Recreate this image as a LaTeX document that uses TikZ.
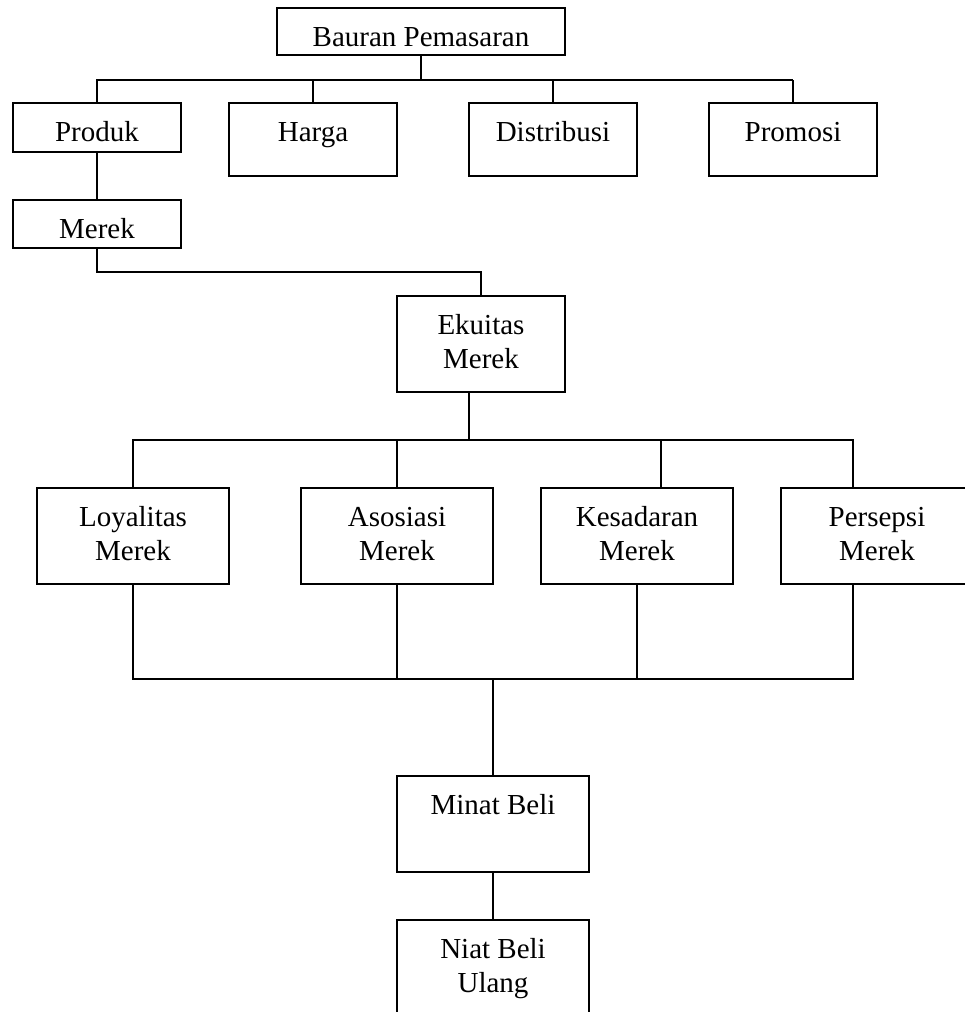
\documentclass[tikz,border=0pt]{standalone}
\usepackage{fontspec}
\setmainfont{Liberation Serif}
% box contents: width, height, text set from the top
\newcommand{\boxtxt}[3]{\parbox[c][#2][t]{#1}{\centering\rule{0pt}{38pt}#3\par}}

\begin{document}
\begin{tikzpicture}[x=1pt,y=-1pt,
  box/.style={draw,line width=2.2pt,inner sep=0pt,font=\fontsize{29}{34}\selectfont},
  link/.style={line width=2pt}]
\path[use as bounding box] (0,0) rectangle (964,1012);
\coordinate (topbus) at (0,80);
\coordinate (mbus) at (0,272);
\coordinate (ebus) at (0,440);
\coordinate (lbus) at (0,679);

% Marketing mix and its four parts
\node[box] (bauran) at (421,31.5) {\boxtxt{288pt}{47pt}{Bauran Pemasaran}};
\node[box] (produk) at (97,127.5) {\boxtxt{168pt}{49pt}{Produk}};
\foreach \x/\nm/\lab in {313/harga/Harga,553/distribusi/Distribusi,793/promosi/Promosi}{
  \node[box] (\nm) at (\x,139.5) {\boxtxt{168pt}{73pt}{\lab}};
  \draw[link] (\nm.north) -- (\nm.north |- topbus);
}
\draw[link] (bauran.south) -- (bauran.south |- topbus);
\draw[link] (produk.north) |- (promosi.north |- topbus);

\node[box] (merek) at (97,224) {\boxtxt{168pt}{48pt}{Merek}};
\draw[link] (produk.south) -- (merek.north);
\node[box] (ekuitas) at (481,344) {\boxtxt{168pt}{96pt}{Ekuitas\\Merek}};
\draw[link] (merek.south) |- (ekuitas.north |- mbus) -- (ekuitas.north);

% Brand equity dimensions
\foreach \x/\nm/\lab in {133/loyalitas/Loyalitas,397/asosiasi/Asosiasi,637/kesadaran/Kesadaran,877/persepsi/Persepsi}{
  \node[box] (\nm) at (\x,536) {\boxtxt{192pt}{96pt}{\lab\\Merek}};
}
\draw[link] ([xshift=-12pt]ekuitas.south) -- ([xshift=-12pt]ekuitas.south |- ebus);
\draw[link] (loyalitas.north) |- ([xshift=-24pt]persepsi.north |- ebus) -- ([xshift=-24pt]persepsi.north);
\draw[link] (asosiasi.north) -- (asosiasi.north |- ebus);
\draw[link] ([xshift=24pt]kesadaran.north) -- ([xshift=24pt]kesadaran.north |- ebus);

\draw[link] (loyalitas.south) |- ([xshift=-24pt]persepsi.south |- lbus) -- ([xshift=-24pt]persepsi.south);
\draw[link] (asosiasi.south) -- (asosiasi.south |- lbus);
\draw[link] (kesadaran.south) -- (kesadaran.south |- lbus);

% Purchase intention
\node[box] (minat) at (493,824) {\boxtxt{192pt}{96pt}{Minat Beli}};
\draw[link] (minat.north) -- (minat.north |- lbus);
\node[box] (niat) at (493,968) {\boxtxt{192pt}{96pt}{Niat Beli\\Ulang}};
\draw[link] (minat.south) -- (niat.north);
\end{tikzpicture}
\end{document}
